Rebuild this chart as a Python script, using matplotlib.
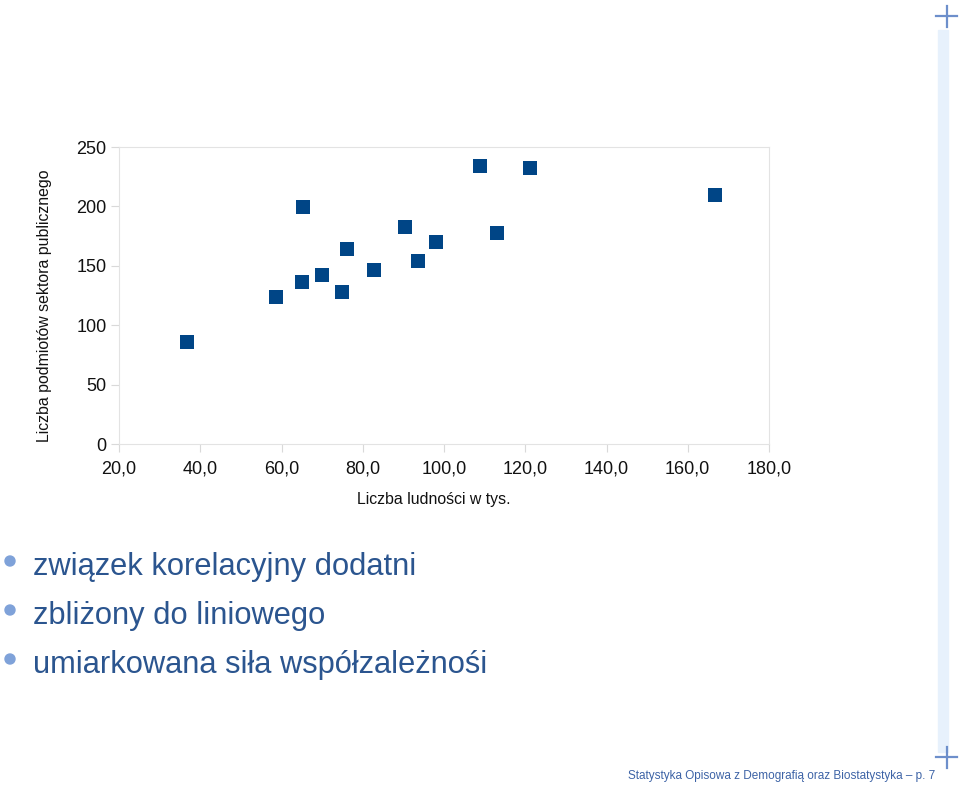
import matplotlib
matplotlib.use("Agg")
import matplotlib.pyplot as plt
from matplotlib.patches import Rectangle, Ellipse
from matplotlib.lines import Line2D
from matplotlib.ticker import FuncFormatter

# ---- data ----
ludnosc = [36.7, 58.6, 65.2, 65.0, 69.9, 74.8, 76.0, 82.7, 90.4, 93.7, 98.1, 108.8, 121.1, 113.1, 166.7]
podmioty = [86.2, 124.1, 199.1, 136.2, 142.4, 128.1, 164.3, 146.3, 182.3, 154.2, 170.2, 234.2, 232.3, 178.0, 209.2]
x_ticks = [20, 40, 60, 80, 100, 120, 140, 160, 180]
y_ticks = [0, 50, 100, 150, 200, 250]
bullets = ["związek korelacyjny dodatni", "zbliżony do liniowego", "umiarkowana siła współzależnośi"]
footer = "Statystyka Opisowa z Demografią oraz Biostatystyka – p. 7"

W, H = 960, 786
plt.rcParams['font.family'] = ['Liberation Sans', 'DejaVu Sans']
fig = plt.figure(figsize=(W / 100, H / 100), dpi=100)

def fx(px):
    return px / W

def fy(py):
    return 1 - py / H

# axes: left 119, right 769, top 147, bottom 444 (pixels)
ax = fig.add_axes([fx(119), fy(444), fx(769) - fx(119), (444 - 147) / H])
ax.scatter(ludnosc, podmioty, marker='s', s=92, color='#004586', linewidths=0, zorder=3)
ax.set_xlim(20, 180)
ax.set_ylim(0, 250)
ax.set_xticks(x_ticks)
ax.set_yticks(y_ticks)
ax.xaxis.set_major_formatter(FuncFormatter(lambda v, p: f"{v:.1f}".replace('.', ',')))
for sp in ax.spines.values():
    sp.set_color('#e3e3e3')
    sp.set_linewidth(0.8)
ax.tick_params(axis='both', length=6, width=0.8, color='#d9d9d9', labelsize=13, labelcolor='#111111')
ax.tick_params(axis='y', pad=3)
ax.tick_params(axis='x', pad=6)

fig.text(fx(45), fy(306), "Liczba podmiotów sektora publicznego", rotation=90,
         ha='center', va='center', fontsize=11.4, color='#111111')
fig.text(fx(434), fy(499), "Liczba ludności w tys.", ha='center', va='center',
         fontsize=11.4, color='#111111')

# bullets
text_col = '#2b558f'
bullet_col = '#7fa2d9'
for i, b in enumerate(bullets):
    ycen = 567 + i * 49
    fig.patches.append(Ellipse((fx(10), fy(ycen - 6)), 10 / W, 10 / H, transform=fig.transFigure,
                               color=bullet_col, zorder=5))
    fig.text(fx(33), fy(ycen), b, ha='left', va='center', fontsize=22.2, color=text_col)

# right decorative bar
fig.patches.append(Rectangle((fx(938), fy(752)), 10 / W, (752 - 30) / H,
                             transform=fig.transFigure, color='#e7f1fc', zorder=0))
for yy in (16, 757):
    fig.add_artist(Line2D([fx(936), fx(957)], [fy(yy), fy(yy)], transform=fig.transFigure,
                          color='#6d8fcb', linewidth=1.6))
    fig.add_artist(Line2D([fx(946.5), fx(946.5)], [fy(yy - 10.5), fy(yy + 10.5)], transform=fig.transFigure,
                          color='#6d8fcb', linewidth=1.6))

fig.text(fx(935), fy(776), footer, ha='right', va='center', fontsize=8.5, color='#3d63a6')

fig.savefig("out.png", dpi=100)
